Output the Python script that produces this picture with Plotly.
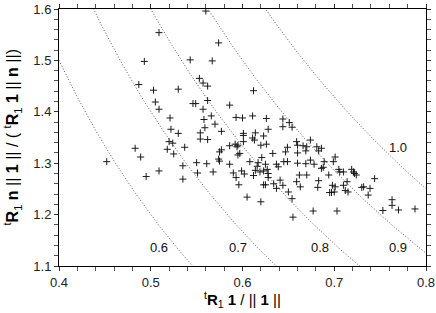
import numpy as np
import plotly.graph_objects as go

# scatter data
px_x = [0.560, 0.509, 0.574, 0.493, 0.543, 0.567, 0.553, 0.557, 0.562, 0.487,
        0.503, 0.530, 0.612, 0.505, 0.546, 0.549, 0.562, 0.509, 0.557, 0.586,
        0.521, 0.566, 0.558, 0.593, 0.600, 0.611, 0.626, 0.644, 0.651, 0.654,
        0.644, 0.628, 0.570, 0.559, 0.554, 0.530, 0.522, 0.577, 0.601, 0.601,
        0.614, 0.611, 0.613, 0.623, 0.554, 0.562, 0.520, 0.524, 0.518, 0.525,
        0.537, 0.483, 0.489, 0.452, 0.509, 0.495, 0.535, 0.535, 0.550, 0.551,
        0.561, 0.568, 0.574, 0.575, 0.577, 0.575, 0.586, 0.592, 0.594, 0.595,
        0.601, 0.620, 0.626, 0.595, 0.597, 0.586, 0.590, 0.593, 0.596, 0.599,
        0.602, 0.608, 0.612, 0.614, 0.616, 0.617, 0.621, 0.619, 0.623, 0.625,
        0.627, 0.628, 0.628, 0.623, 0.625, 0.605, 0.620, 0.633, 0.637, 0.639,
        0.634, 0.637, 0.641, 0.644, 0.645, 0.649, 0.647, 0.649, 0.650, 0.654,
        0.655, 0.659, 0.660, 0.660, 0.659, 0.662, 0.663, 0.666, 0.670, 0.674,
        0.669, 0.669, 0.670, 0.674, 0.677, 0.681, 0.683, 0.686, 0.683, 0.682,
        0.686, 0.688, 0.689, 0.694, 0.695, 0.697, 0.698, 0.699, 0.700, 0.701,
        0.703, 0.705, 0.706, 0.710, 0.714, 0.715, 0.719, 0.721, 0.722, 0.724,
        0.730, 0.732, 0.737, 0.739, 0.744, 0.753, 0.763, 0.763, 0.770, 0.788,
        0.678, 0.710, 0.712, 0.701, 0.660]
px_y = [1.596, 1.554, 1.534, 1.498, 1.501, 1.499, 1.465, 1.456, 1.450, 1.453,
        1.442, 1.444, 1.441, 1.419, 1.416, 1.416, 1.422, 1.405, 1.405, 1.413,
        1.388, 1.392, 1.385, 1.389, 1.388, 1.392, 1.387, 1.386, 1.379, 1.370,
        1.371, 1.366, 1.376, 1.369, 1.359, 1.358, 1.366, 1.362, 1.358, 1.354,
        1.359, 1.349, 1.345, 1.353, 1.347, 1.346, 1.342, 1.339, 1.327, 1.318,
        1.331, 1.329, 1.312, 1.303, 1.285, 1.274, 1.295, 1.269, 1.301, 1.281,
        1.299, 1.283, 1.308, 1.304, 1.326, 1.322, 1.334, 1.337, 1.332, 1.335,
        1.342, 1.335, 1.337, 1.316, 1.319, 1.298, 1.281, 1.272, 1.258, 1.285,
        1.279, 1.303, 1.276, 1.286, 1.294, 1.301, 1.311, 1.283, 1.285, 1.298,
        1.288, 1.280, 1.272, 1.258, 1.258, 1.234, 1.225, 1.319, 1.298, 1.293,
        1.260, 1.251, 1.267, 1.257, 1.303, 1.303, 1.322, 1.331, 1.244, 1.231,
        1.195, 1.342, 1.335, 1.320, 1.264, 1.277, 1.254, 1.334, 1.332, 1.345,
        1.324, 1.299, 1.277, 1.306, 1.207, 1.332, 1.324, 1.329, 1.266, 1.253,
        1.290, 1.292, 1.303, 1.277, 1.243, 1.243, 1.257, 1.303, 1.244, 1.312,
        1.207, 1.288, 1.283, 1.257, 1.264, 1.244, 1.288, 1.283, 1.280, 1.277,
        1.253, 1.254, 1.238, 1.251, 1.270, 1.208, 1.229, 1.218, 1.209, 1.211,
        1.298, 1.283, 1.247, 1.254, 1.300]

# iso-lines  x * y = level
levels = [0.6, 0.7, 0.8, 0.9, 1.0]
level_labels = ["0.6", "0.7", "0.8", "0.9", "1.0"]
label_x = [0.509, 0.595, 0.684, 0.769, 0.769]
label_y = [1.136, 1.136, 1.136, 1.136, 1.331]

x_ticks = [0.4, 0.5, 0.6, 0.7, 0.8]
y_ticks = [1.1, 1.2, 1.3, 1.4, 1.5, 1.6]

x_title = "<sup>t</sup><b>R</b><sub>1</sub> <b>1</b> / || <b>1</b> ||"
y_title = ("<sup>t</sup><b>R</b><sub>1</sub> <b>n</b> || <b>1</b> || / "
           "( <sup>t</sup><b>R</b><sub>1</sub> <b>1</b> || <b>n</b> ||)")

fig = go.Figure()
xs = np.linspace(0.4, 0.8, 400)
for c in levels:
    ys = c / xs
    fig.add_trace(go.Scatter(x=xs, y=ys, mode="lines",
                             line=dict(color="#555555", width=1, dash="1px,2px"),
                             hoverinfo="skip", showlegend=False))

fig.add_trace(go.Scatter(x=px_x, y=px_y, mode="markers",
                         marker=dict(symbol="cross-thin", size=5,
                                     line=dict(color="#1a1a1a", width=1)),
                         showlegend=False))

for t, lx, ly in zip(level_labels, label_x, label_y):
    fig.add_annotation(x=lx, y=ly, text=t, showarrow=False,
                       font=dict(size=13, color="#111111"))

# axis titles placed as annotations so they fit the margins
fig.add_annotation(x=0.5, y=0, xref="paper", yref="paper", text=x_title,
                   showarrow=False, yanchor="middle", yshift=-33,
                   font=dict(size=15, color="black"))
fig.add_annotation(x=0, y=0.5, xref="paper", yref="paper", text=y_title,
                   showarrow=False, xanchor="center", xshift=-47, textangle=-90,
                   font=dict(size=16, color="black"))

axis_common = dict(showline=True, linecolor="black", linewidth=1,
                   ticks="outside", ticklen=4, tickcolor="#333333",
                   mirror="allticks", showgrid=False, zeroline=False,
                   automargin=False,
                   tickfont=dict(size=13, color="#222222"),
                   minor=dict(ticks="outside", ticklen=4, tickcolor="#555555",
                              dtick=0.02, showgrid=False))

fig.update_xaxes(range=[0.4, 0.8], tickvals=x_ticks,
                 ticktext=[f"{v:.1f}" for v in x_ticks],
                 **axis_common)
fig.update_yaxes(range=[1.1, 1.6], tickvals=y_ticks,
                 ticktext=[f"{v:.1f}" for v in y_ticks],
                 **axis_common)

fig.update_layout(width=436, height=313,
                  margin=dict(l=59, r=10, t=9, b=47),
                  paper_bgcolor="white", plot_bgcolor="white",
                  font=dict(family="Liberation Sans, Arial, sans-serif"))

fig.write_html("out.html", config={"displayModeBar": False},
               post_script="document.body.style.margin='0px';"
                           "document.body.style.overflow='hidden';")
